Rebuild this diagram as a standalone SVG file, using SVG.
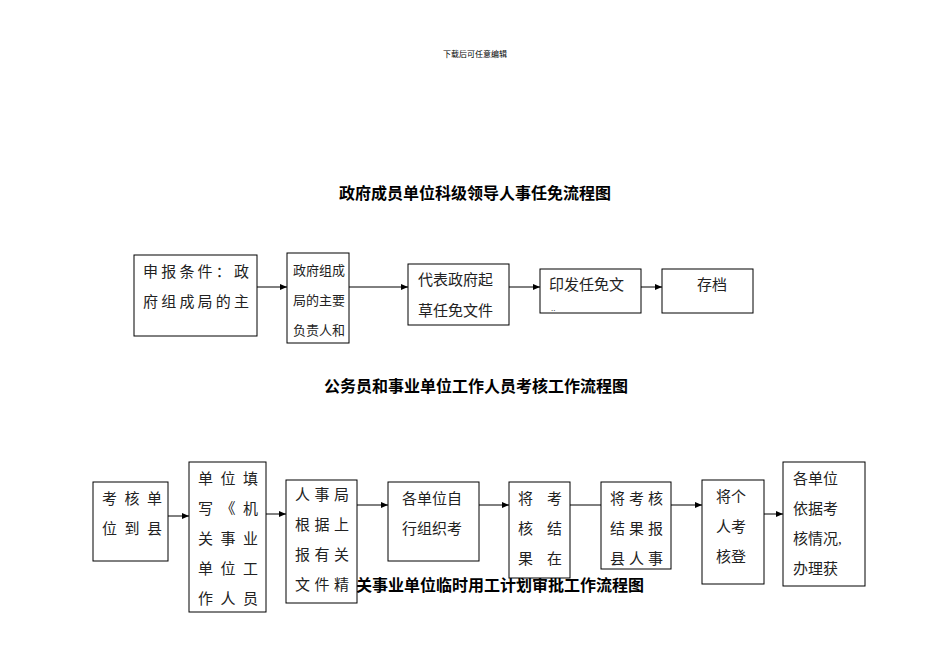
<svg xmlns="http://www.w3.org/2000/svg" width="950" height="672" viewBox="0 0 950 672">
<style>
.b{fill:#fff;stroke:#000;stroke-width:1}
.t{font-family:"Liberation Serif","Noto Sans CJK SC",serif;font-size:15px;fill:#222}
.h{font-family:"Liberation Sans","Noto Sans CJK SC",sans-serif;font-size:16px;font-weight:bold;text-anchor:middle}
.c line{stroke:#000;stroke-width:1;marker-end:url(#a)}
</style>
<defs><marker id="a" markerWidth="8" markerHeight="8" refX="7" refY="4" orient="auto" markerUnits="userSpaceOnUse"><path d="M0,1L7,4L0,7z"/></marker></defs>
<rect width="950" height="672" fill="#fff"/>
<text x="475" y="57" text-anchor="middle" style="font-family:'Noto Sans CJK SC',sans-serif;font-size:8px">下载后可任意编辑</text>
<text class="h" x="475" y="199">政府成员单位科级领导人事任免流程图</text>
<text class="h" x="476" y="392">公务员和事业单位工作人员考核工作流程图</text>
<text class="h" x="492" y="591">机关事业单位临时用工计划审批工作流程图</text>
<g class="c">
<line x1="257" y1="287" x2="287" y2="287"/>
<line x1="349" y1="287" x2="408" y2="287"/>
<line x1="509" y1="287" x2="540" y2="287"/>
<line x1="641" y1="287" x2="662" y2="287"/>
<line x1="168" y1="516" x2="189" y2="516"/>
<line x1="266" y1="514" x2="286" y2="514"/>
<line x1="357" y1="505" x2="388" y2="505"/>
<line x1="479" y1="505" x2="509" y2="505"/>
<line x1="570" y1="505" x2="601" y2="505" style="marker-end:none"/>
<line x1="671" y1="505" x2="702" y2="505"/>
<line x1="764" y1="514" x2="783" y2="514"/>
</g>
<g id="n1"><rect class="b" x="134" y="255" width="123" height="81"/><text class="t" x="143" y="277" textLength="106">申报条件：政</text><text class="t" x="143" y="307" textLength="106">府组成局的主</text></g>
<g id="n2"><rect class="b" x="287" y="253" width="62" height="90"/><text class="t" x="293" y="275" textLength="52" style="font-size:13px">政府组成</text><text class="t" x="293" y="305" textLength="52" style="font-size:13px">局的主要</text><text class="t" x="293" y="335" textLength="52" style="font-size:13px">负责人和</text></g>
<g id="n3"><rect class="b" x="408" y="264" width="101" height="61"/><text class="t" x="418" y="285">代表政府起</text><text class="t" x="418" y="316">草任免文件</text></g>
<g id="n4"><rect class="b" x="540" y="269" width="101" height="44"/><text class="t" x="549" y="290">印发任免文</text><text class="t" x="551" y="311" style="font-size:9px">..</text></g>
<g id="n5"><rect class="b" x="662" y="269" width="91" height="44"/><text class="t" x="697" y="290">存档</text></g>
<g id="m1"><rect class="b" x="93" y="482" width="75" height="79"/><text class="t" x="102" y="504" textLength="60">考核单</text><text class="t" x="102" y="534" textLength="60">位到县</text></g>
<g id="m2"><rect class="b" x="189" y="462" width="77" height="150"/><text class="t" x="198" y="484" textLength="60">单位填</text><text class="t" x="198" y="514" textLength="60">写《机</text><text class="t" x="198" y="544" textLength="60">关事业</text><text class="t" x="198" y="574" textLength="60">单位工</text><text class="t" x="198" y="604" textLength="60">作人员</text></g>
<g id="m3"><rect class="b" x="286" y="480" width="71" height="123"/><text class="t" x="295" y="500" textLength="54">人事局</text><text class="t" x="295" y="530" textLength="54">根据上</text><text class="t" x="295" y="560" textLength="54">报有关</text><text class="t" x="295" y="590" textLength="54">文件精</text></g>
<g id="m4"><rect class="b" x="388" y="482" width="91" height="79"/><text class="t" x="402" y="504">各单位自</text><text class="t" x="402" y="534">行组织考</text></g>
<g id="m5"><rect class="b" x="509" y="482" width="61" height="96"/><text class="t" x="518" y="504" textLength="44">将考</text><text class="t" x="518" y="534" textLength="44">核结</text><text class="t" x="518" y="564" textLength="44">果在</text></g>
<g id="m6"><rect class="b" x="601" y="482" width="70" height="87"/><text class="t" x="610" y="504" textLength="53">将考核</text><text class="t" x="610" y="534" textLength="53">结果报</text><text class="t" x="610" y="564" textLength="53">县人事</text></g>
<g id="m7"><rect class="b" x="702" y="480" width="62" height="104"/><text class="t" x="716" y="502">将个</text><text class="t" x="716" y="532">人考</text><text class="t" x="716" y="562">核登</text></g>
<g id="m8"><rect class="b" x="783" y="462" width="82" height="124"/><text class="t" x="793" y="484">各单位</text><text class="t" x="793" y="514">依据考</text><text class="t" x="793" y="544">核情况,</text><text class="t" x="793" y="574">办理获</text></g>
</svg>
